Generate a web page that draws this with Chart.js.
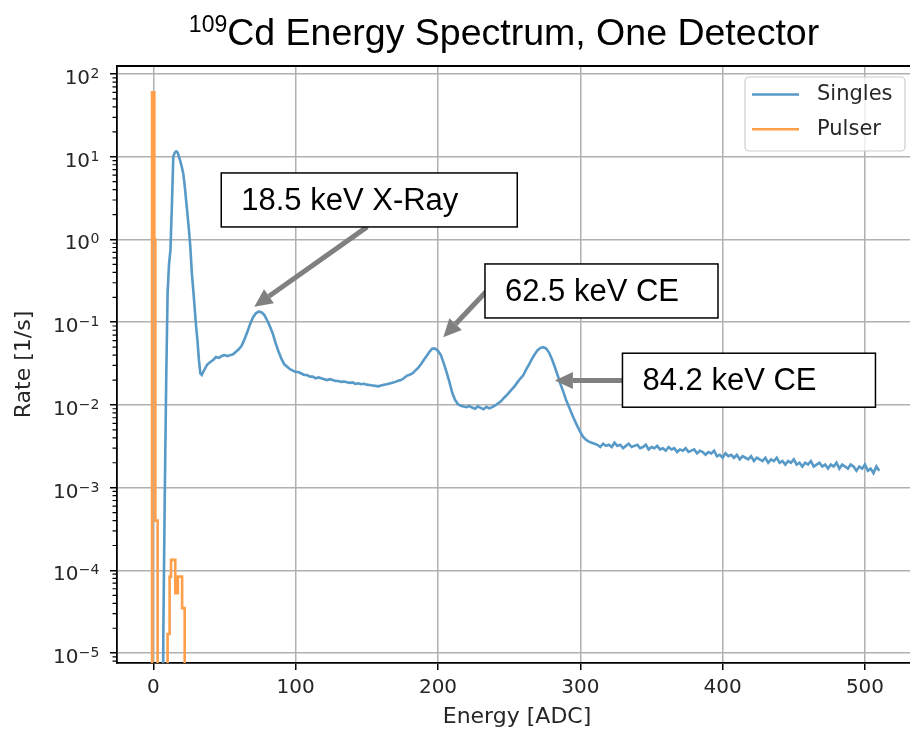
<!DOCTYPE html>
<html>
<head>
<meta charset="utf-8">
<script src="https://cdn.jsdelivr.net/npm/chart.js@4.4.1/dist/chart.umd.min.js"></script>
<style>
  html, body { margin: 0; padding: 0; background: #fff; overflow: hidden; }
  #wrap { position: relative; width: 910px; height: 731px; overflow: hidden; }
  #spectrum { position: absolute; left: 0; top: 0; }
  #title {
    position: absolute; left: 0; top: 13px; width: 1008px; text-align: center;
    font-family: "Liberation Sans", Arial, sans-serif; font-size: 37.5px; line-height: 38px; color: #000;
  }
  #title sup { font-size: 23px; line-height: 23px; vertical-align: top; }
</style>
</head>
<body>
<div id="wrap">
  <canvas id="spectrum" width="930" height="731" style="width:930px;height:731px"></canvas>
  <div id="title"><sup>109</sup>Cd Energy Spectrum, One Detector</div>
</div>
<script>
// ADC channels: single channels up to 39, then pairs of channels
const singlesEnergy = [];
for (let e = 0; e < 40; e++) singlesEnergy.push(e);
for (let e = 40; e <= 510; e += 2) singlesEnergy.push(e);

// Singles rate per channel [1/s]
const singlesRate = [
  0, 0, 0, 0, 0, 0, 0, 1.7e-5, 7.7e-4, 0.0185,
  0.226, 0.5, 0.75, 2.5, 10, 11.2, 11.6, 11.3, 10, 8.8,
  7.5, 6.3, 4.5, 3.0, 2.0, 1.3, 0.8, 0.4, 0.25, 0.15,
  0.09, 0.06, 0.035, 0.024, 0.023, 0.025, 0.027, 0.029, 0.031, 0.032,
  // 40 .. 510, step 2
  .033, .035, .038, .037, .039, .040, .039, .040, .041, .044,
  .047, .052, .062, .076, .095, .114, .128, .134, .132, .122,
  .105, .088, .072, .055, .044, .036, .031, .029, .027, .026,
  .025, .025, .024, .023, .023, .022, .022, .021, .0215, .021,
  .0205, .020, .0205, .020, .0195, .0195, .019, .0192, .0188, .0185,
  .0187, .018, .0183, .0178, .018, .0176, .0174, .0172, .017, .0168,
  .0172, .0175, .0178, .0182, .0185, .019, .0196, .020, .021, .0225,
  .0232, .024, .026, .028, .031, .035, .039, .044, .048, .048,
  .045, .040, .032, .025, .019, .014, .0115, .0102, .0098, .0096,
  .0094, .0097, .0093, .0090, .0096, .0092, .0089, .0095, .0091, .0094,
  .0098, .0104, .011, .012, .013, .0142, .0155, .017, .019, .021,
  .023, .027, .031, .036, .041, .046, .049, .050, .048, .043,
  .036, .029, .023, .018, .0145, .0115, .0095, .0078, .0065, .0055,
  .0047, .0041, .0038, .0036, .0035, .0034, .0033, .0031, .0034, .0032,
  .0033, .0031, .0035, .0032, .0033, .0030, .0032, .0034, .0031, .0032,
  .0033, .0030, .0031, .0033, .0029, .0031, .0030, .0032, .0029, .0030,
  .0028, .0031, .0029, .0030, .0027, .0029, .0028, .0030, .0027, .0028,
  .0029, .0026, .0028, .0027, .0025, .0027, .0026, .0028, .0024, .0025,
  .0023, .0026, .0024, .0025, .0023, .0025, .0022, .0024, .0023, .0022,
  .0024, .0021, .0023, .0022, .0021, .0023, .0020, .0022, .0021, .0023,
  .0020, .0021, .0019, .0021, .0020, .0022, .0019, .0020, .0018, .0020,
  .0019, .0021, .0018, .0019, .0020, .0018, .0019, .0017, .0019, .0018,
  .0020, .0017, .0019, .0018, .0017, .0019, .0018, .0016, .0018, .0017,
  .0019, .0016, .0017, .0015, .0018, .0016
];

// Pulser histogram: left bin edges and rates
const pulserEnergy = [-4, -0.9, 0.7, 1.4, 3.0, 10.0, 11.4, 12.4, 15.4, 17.2, 20.2, 22.0, 40];
const pulserRate   = [0, 60, 1.0, 4e-4, 0, 1.7e-5, 8.4e-5, 1.34e-4, 5.3e-5, 8.4e-5, 3.5e-5, 0, 0];

const xTicks = [0, 100, 200, 300, 400, 500];
const yTicks = [1e-5, 1e-4, 1e-3, 1e-2, 1e-1, 1, 10, 100];

const xMin = -25.55, xMax = 536.55;
const yMin = 7.6e-6, yMax = 125;

// peak labels: box anchor (top-left) and arrow ends in data units
const callouts = [
  { text: '18.5 keV X-Ray', box: [47.7, 6.37], size: [296, 54], tail: [150.2, 1.42], tip: [70.9, 0.154] },
  { text: '62.5 keV CE',    box: [233, 0.506], size: [233, 54], tail: [233.7, 0.234], tip: [203.7, 0.0659] },
  { text: '84.2 keV CE',    box: [329.6, 0.0422], size: [253, 54], tail: [329.6, 0.0197], tip: [282.1, 0.0197] }
];

const singlesColor = '#5799c7';
const pulserColor = '#ff9f4a';
const tickFont = { family: 'DejaVu Sans', size: 20 };
const labelFont = { family: 'DejaVu Sans', size: 22 };
const textColor = '#262626';

// empty bins are pushed far below the axis so the lines drop off the plot
const floorRate = 1e-9;
const toPoints = (xs, ys) => xs.map((x, i) => ({ x: x, y: ys[i] > 0 ? ys[i] : floorRate }));

function drawArrow(ctx, x0, y0, x1, y1) {
    const ang = Math.atan2(y1 - y0, x1 - x0);
    const head = 18, half = 8.5;
    const bx = x1 - head * Math.cos(ang), by = y1 - head * Math.sin(ang);
    ctx.strokeStyle = '#808080';
    ctx.fillStyle = '#808080';
    ctx.lineWidth = 5;
    ctx.beginPath();
    ctx.moveTo(x0, y0);
    ctx.lineTo(bx, by);
    ctx.stroke();
    ctx.beginPath();
    ctx.moveTo(x1, y1);
    ctx.lineTo(bx + half * Math.sin(ang), by - half * Math.cos(ang));
    ctx.lineTo(bx - half * Math.sin(ang), by + half * Math.cos(ang));
    ctx.closePath();
    ctx.fill();
}

const axisFrame = {
    id: 'axisFrame',
    afterDraw(chart) {
        const { ctx, chartArea: a, scales: { y } } = chart;
        ctx.save();
        ctx.strokeStyle = '#000';
        ctx.lineWidth = 1.8;
        ctx.beginPath();
        ctx.moveTo(a.left - 0.9, a.top);
        ctx.lineTo(a.right, a.top);
        ctx.stroke();
        // minor log ticks
        ctx.lineWidth = 1.2;
        ctx.beginPath();
        for (let p = -6; p <= 2; p++) {
            for (let m = 2; m <= 9; m++) {
                const v = m * Math.pow(10, p);
                if (v < y.min || v > y.max) continue;
                const py = y.getPixelForValue(v);
                ctx.moveTo(a.left - 4.5, py);
                ctx.lineTo(a.left, py);
            }
        }
        ctx.stroke();
        // decade labels as 10 with a raised exponent
        ctx.fillStyle = textColor;
        ctx.textAlign = 'right';
        ctx.textBaseline = 'alphabetic';
        y.ticks.forEach((t) => {
            const py = y.getPixelForValue(t.value);
            const exp = String(Math.round(Math.log10(t.value))).replace('-', '\u2212');
            const right = a.left - 17.5;
            ctx.font = '14px "DejaVu Sans"';
            ctx.fillText(exp, right, py + 4);
            const ew = ctx.measureText(exp).width;
            ctx.font = '20px "DejaVu Sans"';
            ctx.fillText('10', right - ew - 0.5, py + 10);
        });
        ctx.restore();
    }
};

const peakCallouts = {
    id: 'peakCallouts',
    afterDatasetsDraw(chart) {
        const { ctx, scales: { x, y } } = chart;
        ctx.save();
        callouts.forEach((c) => {
            const bx = x.getPixelForValue(c.box[0]);
            const by = y.getPixelForValue(c.box[1]);
            drawArrow(ctx, x.getPixelForValue(c.tail[0]), y.getPixelForValue(c.tail[1]),
                x.getPixelForValue(c.tip[0]), y.getPixelForValue(c.tip[1]));
            ctx.fillStyle = '#fff';
            ctx.fillRect(bx, by, c.size[0], c.size[1]);
            ctx.strokeStyle = '#000';
            ctx.lineWidth = 1.5;
            ctx.strokeRect(bx, by, c.size[0], c.size[1]);
            ctx.fillStyle = '#000';
            ctx.font = '31px "Liberation Sans", Arial, sans-serif';
            ctx.textBaseline = 'middle';
            ctx.textAlign = 'left';
            ctx.fillText(c.text, bx + 20, by + c.size[1] / 2 + 1);
        });
        ctx.restore();
    }
};

const cornerLegend = {
    id: 'cornerLegend',
    afterDraw(chart) {
        const { ctx, chartArea: a } = chart;
        const w = 160, h = 74;
        const lx = a.right - 12 - w, ly = a.top + 11;
        ctx.save();
        ctx.fillStyle = 'rgba(255,255,255,0.8)';
        ctx.strokeStyle = '#cccccc';
        ctx.lineWidth = 1.2;
        ctx.beginPath();
        ctx.roundRect(lx, ly, w, h, 4);
        ctx.fill();
        ctx.stroke();
        ctx.font = '21px "DejaVu Sans"';
        ctx.textBaseline = 'middle';
        ctx.textAlign = 'left';
        chart.data.datasets.forEach((ds, i) => {
            const ry = ly + 17.5 + i * 34.7;
            ctx.strokeStyle = ds.borderColor;
            ctx.lineWidth = 2.6;
            ctx.beginPath();
            ctx.moveTo(lx + 7, ry);
            ctx.lineTo(lx + 54, ry);
            ctx.stroke();
            ctx.fillStyle = textColor;
            ctx.fillText(ds.label, lx + 72, ry);
        });
        ctx.restore();
    }
};

new Chart(document.getElementById('spectrum').getContext('2d'), {
    type: 'line',
    data: {
        datasets: [{
            label: 'Singles',
            data: toPoints(singlesEnergy, singlesRate),
            borderColor: singlesColor,
            borderWidth: 2.6,
            pointRadius: 0,
            tension: 0,
            fill: false,
            order: 1
        }, {
            label: 'Pulser',
            data: toPoints(pulserEnergy, pulserRate),
            borderColor: pulserColor,
            borderWidth: 2.6,
            stepped: true,
            pointRadius: 0,
            fill: false,
            order: 0
        }]
    },
    options: {
        responsive: false,
        animation: false,
        layout: { padding: { left: 0, top: 66, right: 13, bottom: 0 } },
        plugins: { legend: { display: false }, tooltip: { enabled: false } },
        scales: {
            x: {
                type: 'linear',
                min: xMin,
                max: xMax,
                afterBuildTicks: (s) => { s.ticks = xTicks.map(v => ({ value: v })); },
                afterFit: (s) => { s.height = 68; },
                grid: { color: '#b0b0b0', lineWidth: 1.5, tickLength: 7, tickColor: '#000', tickWidth: 1.5 },
                border: { display: true, color: '#000', width: 1.8 },
                ticks: { font: tickFont, color: textColor, padding: 6, maxRotation: 0, autoSkip: false,
                    callback: v => String(v) },
                title: { display: true, text: 'Energy [ADC]', font: labelFont, color: textColor,
                    padding: { top: 0, bottom: 1 } }
            },
            y: {
                type: 'logarithmic',
                min: yMin,
                max: yMax,
                afterBuildTicks: (s) => { s.ticks = yTicks.map(v => ({ value: v, major: true })); },
                afterFit: (s) => { s.width = 117; },
                grid: { color: '#b0b0b0', lineWidth: 1.5, tickLength: 7, tickColor: '#000', tickWidth: 1.5 },
                border: { display: true, color: '#000', width: 1.8 },
                ticks: { display: false },
                title: { display: true, text: 'Rate [1/s]', font: labelFont, color: textColor,
                    padding: { top: 11, bottom: 0 } }
            }
        }
    },
    plugins: [axisFrame, peakCallouts, cornerLegend]
});
</script>
</body>
</html>
